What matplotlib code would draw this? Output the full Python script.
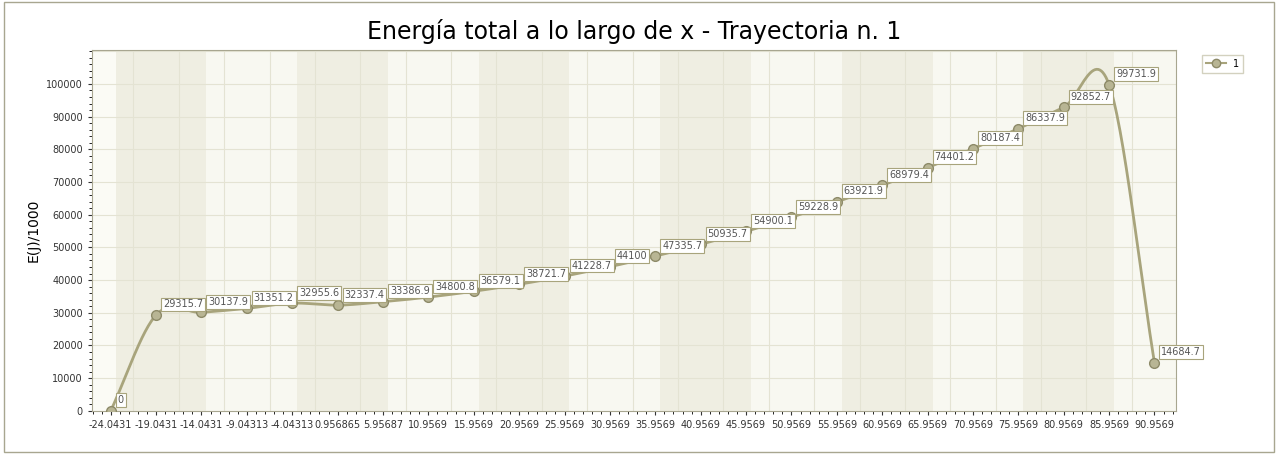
import numpy as np
import matplotlib.pyplot as plt

x_vals = [-24.0431, -19.0431, -14.0431, -9.04313, -4.04313, 0.956865, 5.95687,
          10.9569, 15.9569, 20.9569, 25.9569, 30.9569, 35.9569, 40.9569, 45.9569,
          50.9569, 55.9569, 60.9569, 65.9569, 70.9569, 75.9569, 80.9569, 85.9569, 90.9569]
x_labels = ["-24.0431", "-19.0431", "-14.0431", "-9.04313", "-4.04313", "0.956865", "5.95687",
            "10.9569", "15.9569", "20.9569", "25.9569", "30.9569", "35.9569", "40.9569", "45.9569",
            "50.9569", "55.9569", "60.9569", "65.9569", "70.9569", "75.9569", "80.9569", "85.9569", "90.9569"]
energy = [0, 29315.7, 30137.9, 31351.2, 32955.6, 32337.4, 33386.9, 34800.8, 36579.1,
          38721.7, 41228.7, 44100, 47335.7, 50935.7, 54900.1, 59228.9, 63921.9, 68979.4,
          74401.2, 80187.4, 86337.9, 92852.7, 99731.9, 14684.7]
val_labels = ["0", "29315.7", "30137.9", "31351.2", "32955.6", "32337.4", "33386.9", "34800.8",
              "36579.1", "38721.7", "41228.7", "44100", "47335.7", "50935.7", "54900.1", "59228.9",
              "63921.9", "68979.4", "74401.2", "80187.4", "86337.9", "92852.7", "99731.9", "14684.7"]


def catmull_rom(xs, ys, n=30):
    # smooth line through the points, like the original chart control draws it
    xs = np.asarray(xs, float)
    ys = np.asarray(ys, float)
    px = np.concatenate([[2 * xs[0] - xs[1]], xs, [2 * xs[-1] - xs[-2]]])
    py = np.concatenate([[2 * ys[0] - ys[1]], ys, [2 * ys[-1] - ys[-2]]])
    out_x, out_y = [], []
    t = np.linspace(0, 1, n)
    for i in range(1, len(px) - 2):
        for p, out in ((px, out_x), (py, out_y)):
            p0, p1, p2, p3 = p[i - 1], p[i], p[i + 1], p[i + 2]
            out.extend(0.5 * (2 * p1 + (-p0 + p2) * t + (2 * p0 - 5 * p1 + 4 * p2 - p3) * t**2
                              + (-p0 + 3 * p1 - 3 * p2 + p3) * t**3))
    return np.array(out_x), np.array(out_y)


fig = plt.figure(figsize=(12.78, 4.54), dpi=100)
fig.patch.set_facecolor('white')
ax = fig.add_axes([0.072, 0.095, 0.848, 0.795])
ax.set_facecolor('#fbfbf5')

xmin, xmax = -26.1, 93.3
ax.set_xlim(xmin, xmax)
ax.set_ylim(0, 110400)

# alternating bands, two tick intervals wide
edges = np.arange(-23.5, 100, 20)
for e in edges:
    ax.axvspan(e, e + 10, color='#efeee2', lw=0, zorder=0)
    ax.axvspan(e + 10, e + 20, color='#f8f8f1', lw=0, zorder=0)

for xv in x_vals:
    ax.axvline(xv + 2.5, color='#e4e3d3', lw=0.8, zorder=1)
for yv in range(10000, 110001, 10000):
    ax.axhline(yv, color='#e4e3d3', lw=0.8, zorder=1)

sx, sy = catmull_rom(x_vals, energy)
ax.plot(sx, sy, color='#a8a47c', lw=2, zorder=3)
ax.plot(x_vals, energy, 'o', ms=7, mfc='#b8b594', mec='#8d8a68', zorder=4)

for xv, yv, lab in zip(x_vals, energy, val_labels):
    ax.annotate(lab, (xv, yv), xytext=(5, 4), textcoords='offset points', fontsize=7,
                color='#555555', ha='left', va='bottom', zorder=5,
                bbox=dict(boxstyle='square,pad=0.2', fc='white', ec='#a8a47c', lw=0.8))

ax.set_xticks(x_vals)
ax.set_xticklabels(x_labels, fontsize=7)
ax.set_yticks(range(0, 100001, 10000))
ax.set_yticklabels([str(v) for v in range(0, 100001, 10000)], fontsize=7)
ax.tick_params(colors='#333333', length=3)
ax.minorticks_on()
ax.tick_params(which='minor', length=2)
for s in ax.spines.values():
    s.set_color('#a8a690')
ax.set_ylabel('E(J)/1000', fontsize=10)
ax.set_title('Energía total a lo largo de x - Trayectoria n. 1', fontsize=17, pad=8)

ax.plot([], [], '-o', color='#a8a47c', mfc='#b8b594', mec='#8d8a68', label='1')
ax.legend(loc='upper left', bbox_to_anchor=(1.02, 1.0), fontsize=7, frameon=True,
          fancybox=False, edgecolor='#c8c6b0', handlelength=2)

frame = plt.Rectangle((0.003, 0.005), 0.994, 0.99, transform=fig.transFigure,
                      fill=False, ec='#a8a690', lw=1)
fig.add_artist(frame)

fig.savefig('out.png', dpi=100)
